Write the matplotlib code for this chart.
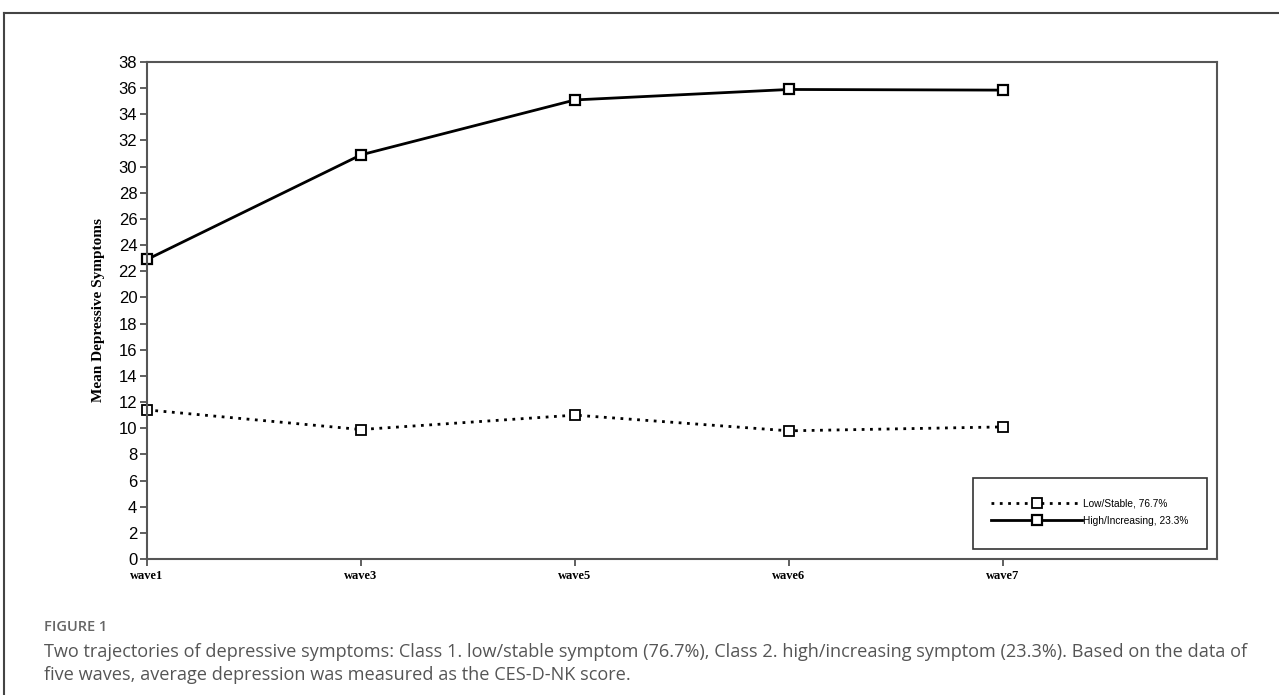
import matplotlib.pyplot as plt
from matplotlib.lines import Line2D
from matplotlib.patches import Rectangle

waves = ["wave1", "wave3", "wave5", "wave6", "wave7"]
low_stable = [11.4, 9.9, 11.0, 9.8, 10.1]
high_increasing = [22.9, 30.9, 35.1, 35.9, 35.85]
yticks = list(range(0, 39, 2))

W, H = 1279, 695
fig = plt.figure(figsize=(W / 100, H / 100), dpi=100)
ax = fig.add_axes([147 / W, 1 - 559 / H, (1217 - 147) / W, (559 - 62) / H])

x = list(range(len(waves)))
ax.plot(x, low_stable, linestyle=(0, (1, 2)), color="black", lw=2,
        marker="s", ms=6.5, mfc="white", mec="black", mew=1.3,
        label="Low/Stable, 76.7%", clip_on=False)
ax.plot(x, high_increasing, linestyle="-", color="black", lw=2,
        marker="s", ms=7, mfc="white", mec="black", mew=1.6,
        label="High/Increasing, 23.3%", clip_on=False)

ax.set_xlim(0, 5)
ax.set_ylim(0, 38)
ax.set_xticks(x)
ax.set_xticklabels(waves, fontfamily="Liberation Serif", fontweight="bold", fontsize=9)
ax.set_yticks(yticks)
ax.set_yticklabels([str(t) for t in yticks], fontfamily="Liberation Sans", fontsize=12)
ax.tick_params(axis="both", direction="out", length=5, width=1.2, color="#444444")
ax.tick_params(axis="y", pad=2)
ax.tick_params(axis="x", pad=3)
for s in ax.spines.values():
    s.set_color("#555555")
    s.set_linewidth(1.5)

ax.set_ylabel("Mean Depressive Symptoms", fontfamily="Liberation Serif",
              fontweight="bold", fontsize=11, labelpad=10)

# legend box drawn separately so the padding can differ per side
fig.add_artist(Rectangle((973 / W, 1 - 549 / H), (1207 - 973) / W, (549 - 478) / H,
                         transform=fig.transFigure, fill=False,
                         edgecolor="#333333", lw=1.2))
leg = ax.legend(loc="center", bbox_to_anchor=(1090 / W, 1 - 512 / H),
                bbox_transform=fig.transFigure, frameon=False,
                prop={"family": "Liberation Sans", "size": 7.3},
                handlelength=9.0, handletextpad=0.1, borderpad=0,
                borderaxespad=0, labelspacing=0.75)

# outer frame lines of the figure panel
fig.add_artist(Line2D([4 / W, 1], [1 - 13 / H, 1 - 13 / H], color="#444444", lw=1.5))
fig.add_artist(Line2D([4 / W, 4 / W], [1 - 13 / H, 0.0], color="#444444", lw=1.5))

fig.text(44 / W, 1 - 627 / H, "FIGURE 1", fontfamily="Open Sans", fontweight="semibold",
         fontsize=10.5, color="#666666", va="center")
fig.text(44 / W, 1 - 652 / H,
         "Two trajectories of depressive symptoms: Class 1. low/stable symptom (76.7%), "
         "Class 2. high/increasing symptom (23.3%). Based on the data of",
         fontfamily="Open Sans", fontsize=13.1, color="#555555", va="center")
fig.text(44 / W, 1 - 675 / H,
         "five waves, average depression was measured as the CES-D-NK score.",
         fontfamily="Open Sans", fontsize=13.1, color="#555555", va="center")

fig.savefig("out.png", dpi=100)
